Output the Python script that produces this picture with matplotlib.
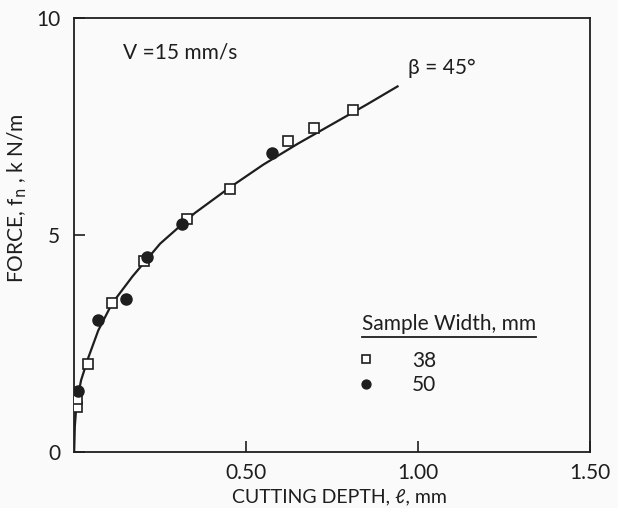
import matplotlib
matplotlib.use("Agg")
import matplotlib.pyplot as plt
from matplotlib.lines import Line2D

plt.rcParams['font.family'] = ['Lato', 'DejaVu Sans']

# Data
depth_38 = [0.009, 0.009, 0.041, 0.110, 0.203, 0.329, 0.453, 0.622, 0.698, 0.811]
force_38 = [1.04, 1.22, 2.03, 3.43, 4.40, 5.37, 6.06, 7.17, 7.46, 7.88]
depth_50 = [0.012, 0.070, 0.150, 0.212, 0.314, 0.576]
force_50 = [1.41, 3.04, 3.53, 4.49, 5.25, 6.89]

curve_depth = [0, 0.002, 0.005, 0.01, 0.02, 0.04, 0.07, 0.11, 0.17, 0.25,
               0.35, 0.45, 0.55, 0.65, 0.75, 0.85, 0.94]
curve_force = [0, 0.6, 0.92, 1.25, 1.65, 2.15, 2.8, 3.42, 4.05, 4.8,
               5.5, 6.08, 6.62, 7.1, 7.55, 8.0, 8.42]

xticks = [0.5, 1.0, 1.5]
xticklabels = ['0.50', '1.00', '1.50']
yticks = [0, 5, 10]
yticklabels = ['0', '5', '10']
legend_labels = ['38', '50']

ink = '#1e1e1e'
bg = '#f9faf9'

fig = plt.figure(figsize=(6.18, 5.08), dpi=100, facecolor=bg)
ax = fig.add_axes([0.120, 0.110, 0.835, 0.855], facecolor=bg)

ax.plot(curve_depth, curve_force, color=ink, lw=1.6, zorder=2)
h38, = ax.plot(depth_38, force_38, ls='none', marker='s', ms=7.5, mfc='white',
               mec=ink, mew=1.2, zorder=3)
h50, = ax.plot(depth_50, force_50, ls='none', marker='o', ms=8, mfc=ink,
               mec=ink, zorder=3)

ax.set_xlim(0, 1.5)
ax.set_ylim(0, 10)
ax.set_xticks(xticks)
ax.set_xticklabels(xticklabels)
ax.set_yticks(yticks)
ax.set_yticklabels(yticklabels)
ax.tick_params(direction='in', length=8, width=1.2, colors=ink, labelsize=15,
               pad=8)
ax.tick_params(axis='y', pad=10)
for s in ax.spines.values():
    s.set_linewidth(1.3)
    s.set_color(ink)

ax.set_xlabel('CUTTING DEPTH, ℓ, mm', fontsize=14, color=ink)
ax.xaxis.set_label_coords(0.515, -0.084)
ax.set_ylabel(r'FORCE, f$_{\mathrm{n}}$ , k N/m', fontsize=15, color=ink)
ax.yaxis.set_label_coords(-0.088, 0.585)

ax.text(0.142, 9.19, 'V =15 mm/s', fontsize=15, color=ink, va='center',
        ha='left')
ax.text(0.97, 8.85, 'β = 45°', fontsize=15, color=ink, va='center', ha='left')

leg = ax.legend([h38, h50], legend_labels, title='Sample Width, mm',
                frameon=False, loc='upper left',
                bbox_to_anchor=(0.558, 0.318), fontsize=15,
                title_fontsize=15, handlelength=0.4, handletextpad=2.0,
                labelspacing=0.2, markerscale=0.8, alignment='left',
                borderaxespad=0, borderpad=0)
for t in leg.get_texts():
    t.set_color(ink)
leg.get_title().set_color(ink)
leg._legend_box.sep = 12

fig.canvas.draw()
bb = leg.get_title().get_window_extent()
inv = ax.transAxes.inverted()
(x0, y0) = inv.transform((bb.x0, bb.y0))
(x1, _) = inv.transform((bb.x1, bb.y0))
ax.add_line(Line2D([x0, x1], [y0 - 0.008, y0 - 0.008], transform=ax.transAxes,
                   color=ink, lw=1.3, clip_on=False))

fig.savefig('out.png', dpi=100, facecolor=bg)
